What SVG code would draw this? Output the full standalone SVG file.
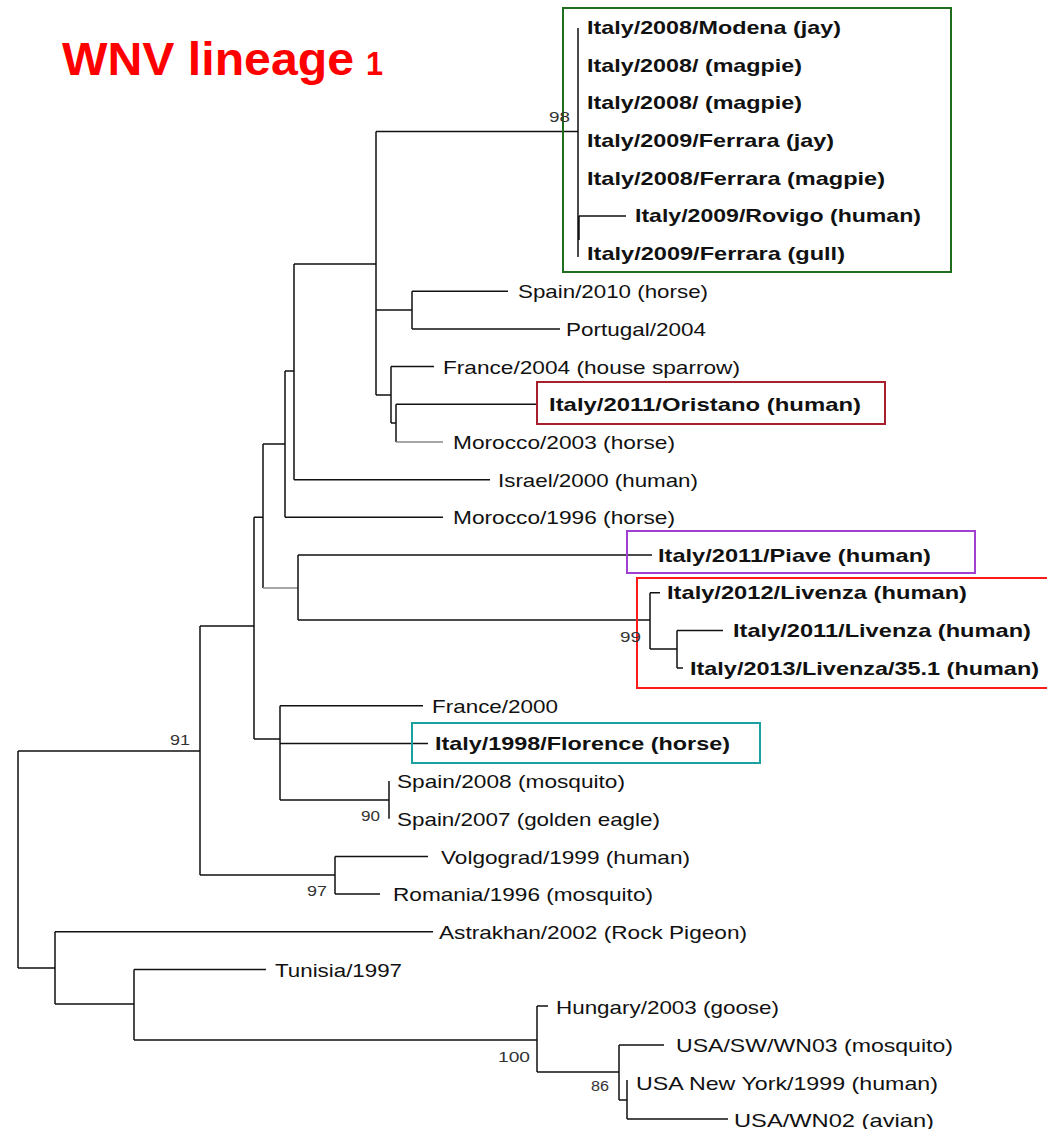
<svg xmlns="http://www.w3.org/2000/svg" width="1047" height="1129" viewBox="0 0 1047 1129">
<style>
.t{font-family:"Liberation Sans",Arial,sans-serif;font-size:19px;fill:#111}
.b{font-family:"Liberation Sans",Arial,sans-serif;font-size:18.5px;font-weight:bold;fill:#111}
.s{font-family:"Liberation Sans",Arial,sans-serif;font-size:14px;fill:#333}
.title{font-family:"Liberation Sans",Arial,sans-serif;font-weight:bold;fill:#ff0000}
.br{fill:none;stroke:#111;stroke-width:1.5}
.gr{fill:none;stroke:#888;stroke-width:1.5}
.box{fill:none;stroke-width:2}
</style>
<rect width="1047" height="1129" fill="#ffffff"/>
<g id="title">
<text class="title" x="62" y="75" font-size="46" textLength="292" lengthAdjust="spacingAndGlyphs">WNV lineage</text>
<text class="title" x="366" y="75" font-size="34" textLength="17" lengthAdjust="spacingAndGlyphs">1</text>
</g>
<g id="connectors">
<path class="br" d="M578 28V257M376 131.5H578M579 215.9H626M579 215.9V240"/>
<path class="br" d="M376 131.5V395M294 264H376M376 310H412M412 291.3V328.9M412 291.3H508M412 328.9H560"/>
<path class="br" d="M376 395H391M391 366.6V423M391 366.6H434M391 423H396M396 404.3V442M396 404.3H537"/>
<path class="gr" d="M396 442H443"/>
<path class="br" d="M294 264V479.7M294 479.7H490M285 371H294M285 371V517.3M285 517.3H443"/>
<path class="br" d="M263 444H285M263 444V588"/>
<path class="gr" d="M263 588H298"/>
<path class="br" d="M298 555V620M298 555H652M298 620H650"/>
<path class="br" d="M650 592.7V649M650 592.7H660M650 649H677M677 630.4V668.1M677 630.4H723M677 668.1H683"/>
<path class="br" d="M254 517.3H263M254 517.3V739M254 739H280"/>
<path class="br" d="M280 705.7V800M280 705.7H423M280 743.4H428M280 800H389M389 781.1V818.8"/>
<path class="br" d="M200 626H254M200 626V875M200 875H335"/>
<path class="br" d="M335 856.5V894.1M335 856.5H428M335 894.1H380"/>
<path class="br" d="M18 751H200M18 751V968M18 968H55"/>
<path class="br" stroke-width="1.2" d="M55 931.8V1004M55 931.8H433M55 1004H134"/>
<path class="br" stroke-width="1.2" d="M134 969.5V1040M134 969.5H266M134 1040H537"/>
<path class="br" stroke-width="1.2" d="M537 1006V1072M537 1006H548M537 1072H619"/>
<path class="br" stroke-width="1.2" d="M619 1044.9V1100M619 1044.9H664M619 1100H627M627 1080V1119M627 1119H728"/>
</g>
<g id="clade-green">
<rect class="box" x="563" y="8" width="388" height="264" stroke="#1e6e1e"/>
<text class="s" x="549" y="122" textLength="21" lengthAdjust="spacingAndGlyphs">98</text>
</g>
<g id="leaf-modena"><text class="b" x="587" y="34" textLength="254" lengthAdjust="spacingAndGlyphs">Italy/2008/Modena (jay)</text></g>
<g id="leaf-magpie1"><text class="b" x="587" y="71.7" textLength="215" lengthAdjust="spacingAndGlyphs">Italy/2008/ (magpie)</text></g>
<g id="leaf-magpie2"><text class="b" x="587" y="109.4" textLength="215" lengthAdjust="spacingAndGlyphs">Italy/2008/ (magpie)</text></g>
<g id="leaf-ferrara-jay"><text class="b" x="587" y="147" textLength="247" lengthAdjust="spacingAndGlyphs">Italy/2009/Ferrara (jay)</text></g>
<g id="leaf-ferrara-magpie"><text class="b" x="587" y="184.7" textLength="298" lengthAdjust="spacingAndGlyphs">Italy/2008/Ferrara (magpie)</text></g>
<g id="leaf-rovigo"><text class="b" x="635" y="222.4" textLength="286" lengthAdjust="spacingAndGlyphs">Italy/2009/Rovigo (human)</text></g>
<g id="leaf-ferrara-gull"><text class="b" x="587" y="260.1" textLength="258" lengthAdjust="spacingAndGlyphs">Italy/2009/Ferrara (gull)</text></g>
<g id="leaf-spain2010"><text class="t" x="518" y="298.3" textLength="190" lengthAdjust="spacingAndGlyphs">Spain/2010 (horse)</text></g>
<g id="leaf-portugal"><text class="t" x="566" y="335.9" textLength="140" lengthAdjust="spacingAndGlyphs">Portugal/2004</text></g>
<g id="leaf-france2004"><text class="t" x="443" y="373.6" textLength="297" lengthAdjust="spacingAndGlyphs">France/2004 (house sparrow)</text></g>
<g id="leaf-oristano">
<rect class="box" x="537" y="382" width="348" height="42" stroke="#a8202e"/>
<text class="b" x="549" y="410.8" textLength="312" lengthAdjust="spacingAndGlyphs">Italy/2011/Oristano (human)</text>
</g>
<g id="leaf-morocco2003"><text class="t" x="453" y="449" textLength="222" lengthAdjust="spacingAndGlyphs">Morocco/2003 (horse)</text></g>
<g id="leaf-israel"><text class="t" x="498" y="486.7" textLength="200" lengthAdjust="spacingAndGlyphs">Israel/2000 (human)</text></g>
<g id="leaf-morocco1996"><text class="t" x="453" y="524.3" textLength="222" lengthAdjust="spacingAndGlyphs">Morocco/1996 (horse)</text></g>
<g id="leaf-piave">
<rect class="box" x="627" y="531" width="348" height="42" stroke="#a040d0"/>
<text class="b" x="658" y="561.5" textLength="273" lengthAdjust="spacingAndGlyphs">Italy/2011/Piave (human)</text>
</g>
<g id="clade-livenza">
<rect class="box" x="637" y="578" width="420" height="110" stroke="#ff1a1a"/>
<text class="s" x="620" y="642" textLength="21" lengthAdjust="spacingAndGlyphs">99</text>
</g>
<g id="leaf-livenza2012"><text class="b" x="667" y="599.2" textLength="300" lengthAdjust="spacingAndGlyphs">Italy/2012/Livenza (human)</text></g>
<g id="leaf-livenza2011"><text class="b" x="733" y="636.9" textLength="298" lengthAdjust="spacingAndGlyphs">Italy/2011/Livenza (human)</text></g>
<g id="leaf-livenza2013"><text class="b" x="690" y="674.6" textLength="349" lengthAdjust="spacingAndGlyphs">Italy/2013/Livenza/35.1 (human)</text></g>
<g id="leaf-france2000"><text class="t" x="432" y="712.7" textLength="126" lengthAdjust="spacingAndGlyphs">France/2000</text></g>
<g id="leaf-florence">
<rect class="box" x="412" y="723" width="348" height="40" stroke="#1aa0a0"/>
<text class="b" x="435" y="749.9" textLength="295" lengthAdjust="spacingAndGlyphs">Italy/1998/Florence (horse)</text>
</g>
<g id="leaf-spain2008"><text class="t" x="397" y="788.1" textLength="228" lengthAdjust="spacingAndGlyphs">Spain/2008 (mosquito)</text></g>
<g id="leaf-spain2007"><text class="t" x="397" y="825.8" textLength="263" lengthAdjust="spacingAndGlyphs">Spain/2007 (golden eagle)</text></g>
<g id="support-90"><text class="s" x="361" y="821" textLength="19" lengthAdjust="spacingAndGlyphs">90</text></g>
<g id="support-91"><text class="s" x="170" y="745" textLength="20" lengthAdjust="spacingAndGlyphs">91</text></g>
<g id="leaf-volgograd"><text class="t" x="441" y="863.5" textLength="249" lengthAdjust="spacingAndGlyphs">Volgograd/1999 (human)</text></g>
<g id="leaf-romania"><text class="t" x="393" y="901.1" textLength="260" lengthAdjust="spacingAndGlyphs">Romania/1996 (mosquito)</text></g>
<g id="support-97"><text class="s" x="307" y="896" textLength="20" lengthAdjust="spacingAndGlyphs">97</text></g>
<g id="leaf-astrakhan"><text class="t" x="439" y="938.8" textLength="308" lengthAdjust="spacingAndGlyphs">Astrakhan/2002 (Rock Pigeon)</text></g>
<g id="leaf-tunisia"><text class="t" x="275" y="976.5" textLength="127" lengthAdjust="spacingAndGlyphs">Tunisia/1997</text></g>
<g id="leaf-hungary"><text class="t" x="556" y="1013.5" textLength="223" lengthAdjust="spacingAndGlyphs">Hungary/2003 (goose)</text></g>
<g id="support-100"><text class="s" x="498" y="1062" textLength="32" lengthAdjust="spacingAndGlyphs">100</text></g>
<g id="leaf-usa-sw"><text class="t" x="676" y="1051.9" textLength="277" lengthAdjust="spacingAndGlyphs">USA/SW/WN03 (mosquito)</text></g>
<g id="support-86"><text class="s" x="591" y="1091" textLength="18" lengthAdjust="spacingAndGlyphs">86</text></g>
<g id="leaf-usa-ny"><text class="t" x="636" y="1089.5" textLength="302" lengthAdjust="spacingAndGlyphs">USA New York/1999 (human)</text></g>
<g id="leaf-usa-wn02"><text class="t" x="734" y="1126.5" textLength="200" lengthAdjust="spacingAndGlyphs">USA/WN02 (avian)</text></g>
</svg>
